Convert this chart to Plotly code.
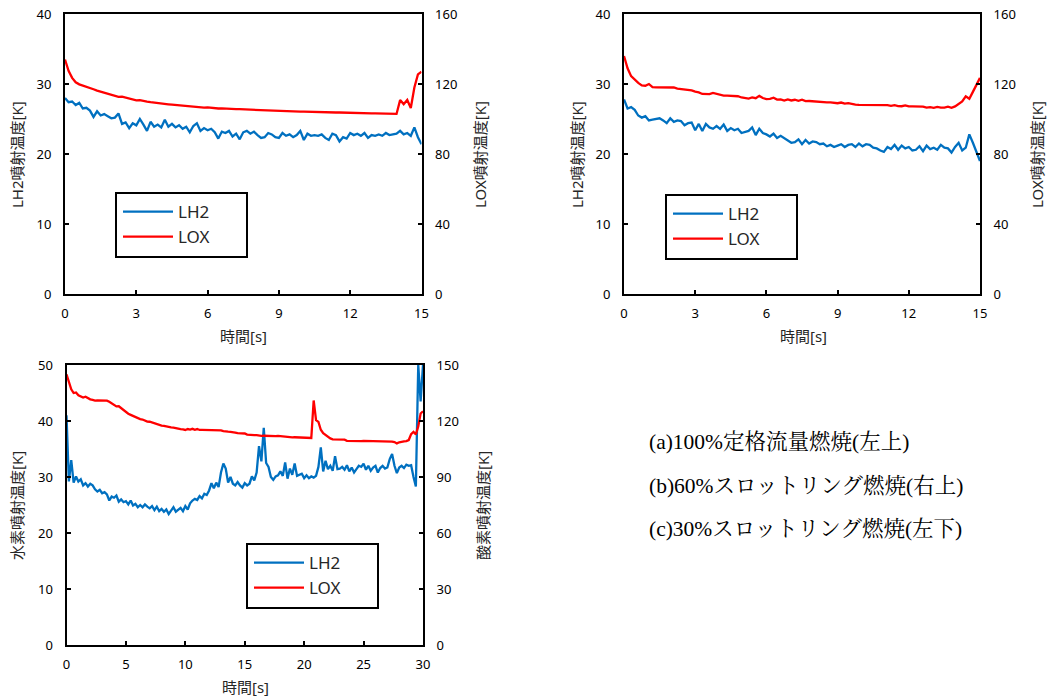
import numpy as np
import plotly.graph_objects as go

# ---------------- data ----------------
time_ab = np.round(np.linspace(0, 15, 101), 2)   # s, panels (a),(b)
time_c = np.round(np.linspace(0, 30, 151), 2)    # s, panel (c)

lh2_a = [28.0, 27.4, 27.5, 27.0, 27.3, 26.5, 26.6, 26.2, 25.3, 26.1,
         25.5, 25.7, 25.4, 25.1, 25.2, 25.8, 24.3, 24.5, 23.7, 24.4,
         24.1, 25.0, 24.2, 23.3, 24.6, 23.9, 24.2, 23.8, 24.9, 23.9,
         24.3, 23.8, 24.1, 23.6, 23.9, 23.1, 24.0, 24.4, 23.3, 23.7,
         23.4, 23.6, 23.1, 22.2, 23.2, 23.0, 23.3, 22.5, 22.9, 22.1,
         23.1, 23.3, 22.9, 23.2, 22.7, 22.3, 22.4, 23.0, 22.8, 22.4,
         22.3, 23.0, 22.6, 22.8, 22.4, 22.7, 23.3, 22.0, 22.9, 22.6,
         22.7, 22.6, 22.8, 22.3, 22.0, 22.9, 22.7, 21.8, 22.4, 22.2,
         23.0, 22.7, 22.9, 22.6, 23.0, 22.3, 22.7, 22.6, 22.8, 22.6,
         23.0, 22.7, 22.8, 22.9, 23.3, 22.8, 23.0, 22.6, 23.8, 22.4,
         21.4]
lox_a = [134.0, 127.5, 123.5, 121.0, 119.8, 119.2, 118.5, 117.8, 117.0, 116.2,
         115.6, 115.2, 114.4, 113.8, 113.2, 112.6, 112.8, 112.2, 111.5, 110.9,
         110.6, 110.8, 110.2, 109.9, 109.6, 109.3, 108.9, 108.8, 108.6, 108.4,
         108.2, 108.0, 107.7, 107.5, 107.3, 107.0, 106.9, 106.8, 106.7, 106.5,
         106.6, 106.3, 106.2, 106.0, 106.1, 105.9, 105.8, 105.7, 105.6, 105.6,
         105.5, 105.4, 105.4, 105.3, 105.3, 105.0, 104.8, 104.8, 104.7, 104.6,
         104.6, 104.5, 104.5, 104.4, 104.3, 104.3, 104.2, 104.2, 104.1, 104.1,
         104.0, 104.0, 103.9, 103.9, 103.8, 103.8, 103.7, 103.7, 103.6, 103.5,
         103.5, 103.4, 103.4, 103.4, 103.3, 103.3, 103.2, 103.2, 103.2, 103.1,
         103.1, 103.0, 103.0, 102.9, 110.8, 108.5, 110.9, 106.3, 118.0, 125.5,
         127.0]

lh2_b = [27.8, 26.5, 26.7, 26.3, 25.5, 25.2, 25.4, 24.8, 24.9, 25.0,
         25.1, 24.8, 24.4, 25.1, 24.6, 24.8, 24.7, 24.1, 24.4, 24.5,
         23.4, 24.3, 23.3, 24.3, 23.8, 23.6, 24.0, 23.6, 24.2, 23.3,
         23.7, 23.4, 23.6, 23.0, 23.2, 23.3, 23.8, 22.7, 23.6, 23.0,
         22.8, 22.5, 22.9, 22.3, 22.6, 22.3, 21.9, 21.6, 21.7, 22.1,
         21.4, 22.0, 21.5, 21.8, 21.7, 21.4, 21.5, 21.1, 21.3, 21.0,
         21.2, 21.4, 21.0, 21.3, 21.4, 21.0, 21.5, 21.1, 21.4, 21.3,
         20.9, 20.8, 20.5, 20.3, 21.0, 20.7, 21.3, 20.6, 21.2, 20.8,
         21.0, 20.5, 20.6, 21.1, 20.4, 21.2, 20.7, 20.9, 20.6, 21.3,
         20.9, 20.8, 20.2, 21.0, 21.6, 20.5, 20.9, 22.8, 21.6, 20.3,
         19.0]
lox_b = [136.0, 129.0, 124.5, 122.5, 120.6, 119.2, 119.0, 120.0, 118.2, 118.1,
         118.1, 118.1, 118.1, 118.0, 118.0, 117.4, 117.2, 117.0, 116.4, 116.3,
         115.6, 115.2, 114.3, 114.2, 114.2, 114.9, 114.3, 113.6, 113.4, 113.4,
         113.3, 113.2, 113.0, 112.3, 111.9, 111.7, 112.3, 111.9, 113.2, 112.0,
         111.4, 111.5, 112.2, 111.1, 111.2, 110.5, 111.2, 110.6, 111.0, 110.4,
         111.0, 110.2, 110.3, 110.1, 110.0, 109.6, 109.8, 109.5, 109.5, 109.4,
         109.0, 109.4, 108.8, 109.1, 108.5, 108.2, 108.1, 108.1, 108.0, 108.0,
         108.0, 108.0, 108.0, 108.0, 107.9, 107.5, 107.9, 107.4, 107.3, 107.8,
         107.2, 107.2, 107.2, 107.2, 107.1, 106.5, 106.8, 106.4, 106.9, 106.5,
         106.5, 107.0, 106.4, 107.2, 108.5, 110.0, 113.0, 111.6, 115.5, 119.5,
         123.5]

lh2_c = [41.0, 29.2, 33.0, 29.0, 30.1, 29.2, 29.6, 28.5, 28.9, 28.3,
         28.8, 28.5, 27.8, 27.4, 27.7, 27.1, 27.3, 26.9, 25.8, 26.5,
         26.3, 26.7, 25.6, 26.0, 25.5, 25.7, 25.1, 25.8, 24.9, 25.2,
         24.6, 25.0, 24.6, 25.1, 24.7, 24.4, 24.8, 24.1, 24.7, 23.9,
         24.3, 23.8, 24.2, 23.4, 24.0, 24.6, 23.8, 24.1, 24.5, 23.9,
         24.8, 24.2, 25.3, 25.8, 26.1, 25.9, 26.6, 26.2, 27.0, 26.8,
         27.6, 28.9, 28.0, 29.0, 28.2, 30.8, 32.4, 31.5, 29.0, 30.0,
         28.8, 28.5, 29.1, 28.5, 28.1, 28.9, 28.5, 28.8, 30.1, 29.4,
         30.8, 35.5, 32.8, 38.8, 32.5, 31.8, 30.0, 29.5, 30.1, 30.3,
         31.0, 30.2, 32.6, 29.7, 31.5, 30.4, 32.4, 30.2, 30.4, 30.6,
         29.8, 30.3, 29.8, 30.1, 29.9, 30.2, 31.8, 35.3, 31.0, 32.9,
         31.4, 32.0, 31.1, 33.7, 31.4, 31.5, 31.8, 31.3, 32.1, 31.0,
         31.7, 30.8, 31.4, 32.0, 31.8, 32.4, 31.3, 32.0, 31.1, 31.7,
         32.0, 30.8, 31.6, 32.0, 31.5, 31.7, 33.2, 34.1, 32.0, 30.7,
         31.7, 32.0, 31.6, 32.2, 32.0, 32.1, 30.0, 28.3, 50.0, 43.5,
         50.0]
lox_c = [145.0, 141.5, 137.0, 135.0, 135.3, 133.8, 133.0, 132.6, 133.0, 132.2,
         131.6, 131.3, 130.9, 131.0, 130.9, 131.0, 130.8, 130.9, 130.3, 129.6,
         128.6, 127.8, 127.9, 126.9, 125.6, 124.6, 123.9, 123.3, 122.7, 122.1,
         121.5, 121.0, 120.8, 120.2, 119.7, 119.6, 119.1, 118.7, 118.2, 117.9,
         117.5, 117.4, 117.0, 117.0, 116.6, 116.5, 116.1, 116.0, 115.7, 115.5,
         115.2, 115.7, 115.4, 115.8, 115.3, 115.7, 115.2, 115.2, 115.2, 115.1,
         115.2, 115.1, 115.2, 115.1, 115.0, 115.0, 114.6, 114.3, 114.3, 114.2,
         114.2, 113.8, 113.5, 113.4, 113.4, 113.3, 112.7, 112.5, 112.5, 112.4,
         112.4, 112.0, 112.0, 112.1, 112.0, 111.9, 112.0, 112.0, 111.9, 112.0,
         111.9, 111.4, 111.5, 111.3, 111.3, 111.2, 111.3, 111.2, 111.1, 111.2,
         111.0, 111.1, 110.8, 110.9, 131.0, 120.5, 119.5, 115.3, 113.5, 112.5,
         111.3, 110.7, 110.2, 110.2, 110.1, 110.2, 110.1, 110.0, 109.4, 109.3,
         109.3, 109.2, 109.3, 109.3, 109.2, 109.3, 109.3, 109.2, 109.3, 109.2,
         109.3, 109.3, 109.2, 109.3, 109.2, 109.3, 109.2, 109.0, 108.7, 108.0,
         108.6, 109.0, 109.1, 109.2, 109.8, 113.0, 114.2, 112.8, 117.0, 124.0,
         125.2]

captions = ["(a)100%定格流量燃焼(左上)",
            "(b)60%スロットリング燃焼(右上)",
            "(c)30%スロットリング燃焼(左下)"]

# ---------------- style ----------------
W, H = 1047, 700
BLUE = "#0070C0"
RED = "#FF0000"
FONT = "Noto Sans, Noto Sans CJK JP, sans-serif"
LW = 2.3

def px_x(p):
    return p / W

def px_y(p):
    return 1 - p / H

fig = go.Figure()

panels = [
    ("x", "y", "y2", time_ab, lh2_a, lox_a, "legend"),
    ("x2", "y3", "y4", time_ab, lh2_b, lox_b, "legend2"),
    ("x3", "y5", "y6", time_c, lh2_c, lox_c, "legend3"),
]
for xa, yl, yr, t, lh2, lox, lg in panels:
    fig.add_trace(go.Scatter(x=t, y=lh2, mode="lines", name="LH2",
                             line=dict(color=BLUE, width=LW),
                             xaxis=xa, yaxis=yl, legend=lg))
    fig.add_trace(go.Scatter(x=t, y=lox, mode="lines", name="LOX",
                             line=dict(color=RED, width=LW),
                             xaxis=xa, yaxis=yr, legend=lg))

tickfont = dict(family=FONT, size=13, color="black")
common_ax = dict(showline=True, linecolor="black", linewidth=2,
                 ticks="inside", ticklen=4, tickwidth=2, tickcolor="black",
                 showgrid=False, zeroline=False, tickfont=tickfont,
                 fixedrange=True, automargin=False)

dom_a_x = [px_x(65), px_x(421.5)]
dom_b_x = [px_x(624), px_x(980)]
dom_c_x = [px_x(66.5), px_x(423)]
dom_top_y = [px_y(294), px_y(14)]
dom_bot_y = [px_y(645), px_y(365)]

fig.update_layout(
    template="none",
    xaxis=dict(domain=dom_a_x, range=[0, 15], dtick=3, anchor="y",
               mirror=True, ticklabelstandoff=6, **common_ax),
    yaxis=dict(domain=dom_top_y, range=[0, 40], dtick=10, anchor="x",
               ticklabelstandoff=9, **common_ax),
    yaxis2=dict(range=[0, 160], dtick=40, overlaying="y", side="right",
                anchor="x", ticklabelstandoff=9, **common_ax),
    xaxis2=dict(domain=dom_b_x, range=[0, 15], dtick=3, anchor="y3",
                mirror=True, ticklabelstandoff=6, **common_ax),
    yaxis3=dict(domain=dom_top_y, range=[0, 40], dtick=10, anchor="x2",
                ticklabelstandoff=9, **common_ax),
    yaxis4=dict(range=[0, 160], dtick=40, overlaying="y3", side="right",
                anchor="x2", ticklabelstandoff=9, **common_ax),
    xaxis3=dict(domain=dom_c_x, range=[0, 30], dtick=5, anchor="y5",
                mirror=True, ticklabelstandoff=6, **common_ax),
    yaxis5=dict(domain=dom_bot_y, range=[0, 50], dtick=10, anchor="x3",
                ticklabelstandoff=9, **common_ax),
    yaxis6=dict(range=[0, 150], dtick=30, overlaying="y5", side="right",
                anchor="x3", ticklabelstandoff=9, **common_ax),
)

# legends: native legends inside a framed box (frame drawn as a paper shape)
legend_boxes = [(116, 193), (666, 195), (247, 544)]   # top-left corner, px
LEG_W, LEG_H = 131, 64
legend_common = dict(bgcolor="rgba(0,0,0,0)", borderwidth=0,
                     font=dict(family=FONT, size=17, color="#262626"),
                     xanchor="left", yanchor="top", itemwidth=50)
shapes = []
for name, (lx, ly) in zip(["legend", "legend2", "legend3"], legend_boxes):
    fig.update_layout({name: dict(x=px_x(lx + 2), y=px_y(ly + 1), **legend_common)})
    shapes.append(dict(type="rect", xref="paper", yref="paper",
                       x0=px_x(lx), x1=px_x(lx + LEG_W),
                       y0=px_y(ly + LEG_H), y1=px_y(ly),
                       line=dict(color="black", width=2),
                       fillcolor="white", layer="above", opacity=1))

title_font = dict(family=FONT, size=15, color="#262626")
ann = []
def add_title(text, x, y, angle=0):
    ann.append(dict(text=text, x=px_x(x), y=px_y(y), xref="paper", yref="paper",
                    showarrow=False, textangle=angle, font=title_font,
                    xanchor="center", yanchor="middle"))

add_title("時間[s]", 243, 336)
add_title("時間[s]", 803, 336)
add_title("時間[s]", 245, 687)
add_title("LH2噴射温度[K]", 17, 155, -90)
add_title("LOX噴射温度[K]", 480, 155, -90)
add_title("LH2噴射温度[K]", 577, 155, -90)
add_title("LOX噴射温度[K]", 1037, 155, -90)
add_title("水素噴射温度[K]", 17, 506, -90)
add_title("酸素噴射温度[K]", 483, 506, -90)

for txt, yy in zip(captions, [442, 486, 529]):
    ann.append(dict(text=txt, x=px_x(647), y=px_y(yy), xref="paper", yref="paper",
                    showarrow=False, xanchor="left", yanchor="middle",
                    font=dict(family="Liberation Serif, Noto Serif CJK JP, Noto Sans CJK JP, serif",
                              size=21.5, color="black")))

fig.update_layout(
    annotations=ann,
    shapes=shapes,
    width=W, height=H,
    margin=dict(l=0, r=0, t=0, b=0, autoexpand=False),
    paper_bgcolor="white", plot_bgcolor="white",
    showlegend=True,
)

fig.write_html("out.html",
               config={"displayModeBar": False},
               post_script="document.body.style.margin='0';"
                           "document.body.style.overflow='hidden';")
